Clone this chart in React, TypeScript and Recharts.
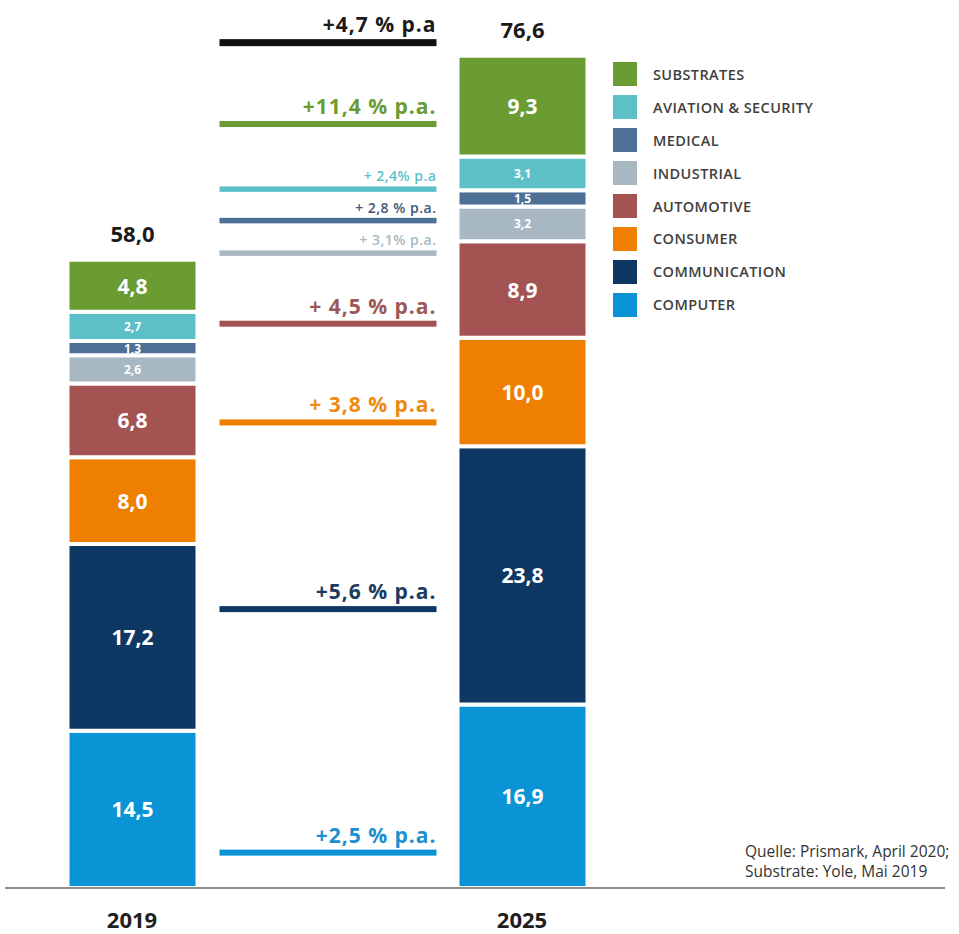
import React from 'react';
import { BarChart, Bar, XAxis, YAxis, LabelList, ReferenceArea, Legend } from 'recharts';

const FONT = '"Open Sans", "DejaVu Sans", sans-serif';

// categories (middle slot holds the growth-rate annotations)
const years = ['2019', 'gap', '2025'];

// stack series, bottom to top
const seriesKeys = ['computer', 'communication', 'consumer', 'automotive', 'industrial', 'medical', 'aviation', 'substrates'];
const seriesNames = ['COMPUTER', 'COMMUNICATION', 'CONSUMER', 'AUTOMOTIVE', 'INDUSTRIAL', 'MEDICAL', 'AVIATION & SECURITY', 'SUBSTRATES'];
const seriesColors = ['#0a94d6', '#0e3763', '#ee7f00', '#a35452', '#a8b8c3', '#4e6f96', '#5dc0c9', '#6b9b33'];

const values2019 = [14.5, 17.2, 8.0, 6.8, 2.6, 1.3, 2.7, 4.8];
const values2025 = [16.9, 23.8, 10.0, 8.9, 3.2, 1.5, 3.1, 9.3];
const totalLabels = ['58,0', '', '76,6'];

// growth-rate annotations (top to bottom)
const growthLabels = ['+4,7 % p.a', '+11,4 % p.a.', '+ 2,4% p.a', '+ 2,8 % p.a.', '+ 3,1% p.a.', '+ 4,5 % p.a.', '+ 3,8 % p.a.', '+5,6 % p.a.', '+2,5 % p.a.'];
const growthLineColors = ['#111111', '#6b9b33', '#5dc0c9', '#4e6f96', '#a8b8c3', '#a35452', '#ee7f00', '#0e3763', '#0a94d6'];
const growthTextColors = ['#1a1a1a', '#6b9b33', '#5dc0c9', '#3f5675', '#a8b8c3', '#9c5856', '#ee8a10', '#1d3a5f', '#1b8fcf'];
const growthSmall = [false, false, true, true, true, false, false, false, false];
// vertical anchor of each annotation, in value units of the y axis
const growthAnchor = [77.9, 70.4, 64.4, 61.5, 58.5, 52.0, 42.9, 25.7, 3.26];

const data = years.map((year, i) => {
  const row: Record<string, any> = { year, total: totalLabels[i] };
  seriesKeys.forEach((k, j) => {
    row[k] = i === 0 ? values2019[j] : i === 2 ? values2025[j] : null;
  });
  return row;
});

const fmt = (v: number) => v.toFixed(1).replace('.', ',');

const getBox = (p: any) => {
  const vb = p.viewBox && typeof p.viewBox.x === 'number' ? p.viewBox : p;
  return { x: Number(vb.x), y: Number(vb.y), width: Number(vb.width), height: Number(vb.height) };
};

const renderValue = (p: any) => {
  const { value } = p;
  if (value == null || value === '') return null;
  const { x, y, width, height } = getBox(p);
  if (!isFinite(x) || !isFinite(y)) return null;
  const small = Number(value) < 4;
  return (
    <text
      x={x + width / 2}
      y={y + height / 2}
      textAnchor="middle"
      dominantBaseline="central"
      fill="#ffffff"
      fontFamily={FONT}
      fontWeight={700}
      fontSize={small ? 12 : 21}
    >
      {fmt(Number(value))}
    </text>
  );
};

const renderTotal = (p: any) => {
  const { value } = p;
  if (!value) return null;
  const { x, y, width } = getBox(p);
  if (!isFinite(x) || !isFinite(y)) return null;
  return (
    <text x={x + width / 2} y={y - 27} textAnchor="middle" dominantBaseline="central" fill="#1a1a1a" fontFamily={FONT} fontWeight={700} fontSize={22}>
      {value}
    </text>
  );
};

const makeGrowthShape = (i: number) => (p: any) => {
  const x = Number(p.x);
  const y = Number(p.y);
  const width = Number(p.width);
  const height = Number(p.height);
  if (!isFinite(x) || !isFinite(y)) return null;
  const cy = y + height / 2;
  const thick = i === 0 ? 7 : growthSmall[i] ? 5.5 : 6;
  const left = x - 10;
  const right = x + width + 12;
  const small = growthSmall[i];
  return (
    <g>
      <rect x={left} y={cy - thick / 2} width={right - left} height={thick} fill={growthLineColors[i]} />
      <text
        x={right}
        y={cy - thick / 2 - (small ? 5 : 7)}
        textAnchor="end"
        fill={growthTextColors[i]}
        fontFamily={FONT}
        fontWeight={small ? 600 : 700}
        fontSize={small ? 14 : 21}
        letterSpacing={small ? 0.5 : 1}
        style={{ whiteSpace: 'pre' }}
      >
        {growthLabels[i]}
      </text>
    </g>
  );
};

const LegendContent = () => (
  <div style={{ fontFamily: FONT }}>
    {seriesKeys
      .map((k, j) => j)
      .reverse()
      .map((j) => (
        <div key={seriesKeys[j]} style={{ display: 'flex', alignItems: 'center', height: 32.9 }}>
          <div style={{ width: 24, height: 24, background: seriesColors[j], marginRight: 16 }} />
          <span style={{ fontSize: 14.5, fontWeight: 600, color: '#404040', letterSpacing: 0.4 }}>{seriesNames[j]}</span>
        </div>
      ))}
  </div>
);

export default function App() {
  return (
    <div style={{ position: 'absolute', left: 0, top: 0, width: 959, height: 934, background: '#fff' }}>
      <BarChart width={959} height={934} data={data} margin={{ top: 9, right: 14, bottom: 6, left: 5 }}>
        <XAxis
          dataKey="year"
          interval={0}
          padding={{ left: 29.5, right: 325.5 }}
          tickFormatter={(v: string) => (v === 'gap' ? '' : v)}
          axisLine={{ stroke: '#8c8c8c', strokeWidth: 2 }}
          tickLine={false}
          tickMargin={18}
          height={40}
          tick={{ fontSize: 22, fontWeight: 700, fill: '#1e1e1e', fontFamily: FONT }}
        />
        <YAxis hide domain={[0, 81]} type="number" />
        <Legend
          layout="vertical"
          align="center"
          verticalAlign="middle"
          wrapperStyle={{ position: 'absolute', left: 613, top: 58, width: 300 }}
          content={<LegendContent />}
        />
        {growthAnchor.map((v, i) => (
          <ReferenceArea
            key={'g' + i}
            x1="gap"
            x2="gap"
            y1={v - 0.3}
            y2={v + 0.3}
            ifOverflow="visible"
            shape={makeGrowthShape(i)}
          />
        ))}
        {seriesKeys.map((k, j) => (
          <Bar
            key={k}
            dataKey={k}
            name={seriesNames[j]}
            stackId="a"
            fill={seriesColors[j]}
            stroke="#ffffff"
            strokeWidth={4}
            barSize={130}
            isAnimationActive={false}
          >
            <LabelList dataKey={k} content={renderValue} />
            {j === seriesKeys.length - 1 ? <LabelList dataKey="total" content={renderTotal} /> : null}
          </Bar>
        ))}
      </BarChart>
      <div
        style={{
          position: 'absolute',
          left: 745,
          top: 841,
          fontFamily: FONT,
          fontSize: 15.5,
          lineHeight: '20px',
          color: '#333',
          whiteSpace: 'nowrap',
        }}
      >
        Quelle: Prismark, April 2020;
        <br />
        Substrate: Yole, Mai 2019
      </div>
    </div>
  );
}
